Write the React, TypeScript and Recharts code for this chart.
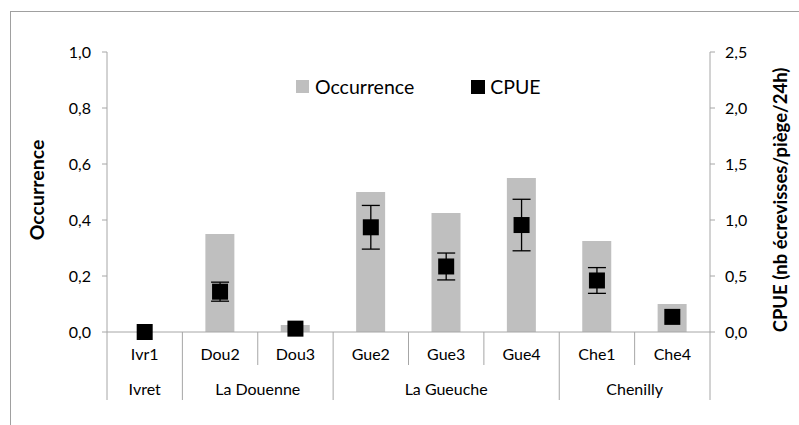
import React from "react";
import {
  ComposedChart, Bar, Line, XAxis, YAxis, ErrorBar, Legend,
} from "recharts";

// sites (first level) and rivers (second level)
const sites = ["Ivr1", "Dou2", "Dou3", "Gue2", "Gue3", "Gue4", "Che1", "Che4"];
const rivers = ["Ivret", "La Douenne", "La Douenne", "La Gueuche", "La Gueuche", "La Gueuche", "Chenilly", "Chenilly"];
const occurrence = [0, 0.35, 0.025, 0.5, 0.425, 0.55, 0.325, 0.1];
const cpue = [0, 0.36, 0.03, 0.935, 0.585, 0.955, 0.46, 0.135];
const cpueErr = [0, 0.085, 0, 0.195, 0.12, 0.23, 0.115, 0];
const leftTicks = [0, 0.2, 0.4, 0.6, 0.8, 1.0];
const rightTicks = [0, 0.5, 1.0, 1.5, 2.0, 2.5];

const data = sites.map((s, i) => ({
  site: s, river: rivers[i], occurrence: occurrence[i], cpue: cpue[i], cpueErr: cpueErr[i],
}));

const AXIS = "#A6A6A6";
const FONT = "Lato, 'Open Sans', sans-serif";
const comma = (v: number) => v.toFixed(1).replace(".", ",");

function SiteTick({ x, y, payload }: any) {
  const i = payload.index;
  const half = payload.offset || 37.7;
  const left = x - half;
  const groupStart = i === 0 || rivers[i] !== rivers[i - 1];
  const last = i === sites.length - 1;
  let groupLabel = null;
  if (groupStart) {
    let n = 1;
    while (i + n < rivers.length && rivers[i + n] === rivers[i]) n++;
    groupLabel = (
      <text x={left + n * half} y={y + 63} textAnchor="middle" fill="#000" fontSize={16} fontFamily={FONT}>
        {rivers[i]}
      </text>
    );
  }
  return (
    <g>
      <line x1={left} x2={left} y1={y} y2={y + (groupStart ? 68 : 33)} stroke={AXIS} />
      {last && <line x1={x + half} x2={x + half} y1={y} y2={y + 68} stroke={AXIS} />}
      <text x={x} y={y + 28} textAnchor="middle" fill="#000" fontSize={16} fontFamily={FONT}>
        {payload.value}
      </text>
      {groupLabel}
    </g>
  );
}

function SquareDot({ cx, cy }: any) {
  if (cx == null || cy == null) return null;
  return <rect x={cx - 8} y={cy - 8} width={16} height={16} fill="#000" />;
}

function LegendBox() {
  return (
    <div style={{ display: "flex", alignItems: "center", fontFamily: FONT, fontSize: 19.5, color: "#000" }}>
      <span style={{ width: 13, height: 13, background: "#BFBFBF", marginRight: 6 }} />
      <span style={{ marginRight: 57 }}>Occurrence</span>
      <span style={{ width: 14, height: 14, background: "#000", marginRight: 5 }} />
      <span>CPUE</span>
    </div>
  );
}

export default function App() {
  return (
    <div style={{ position: "absolute", left: 0, top: 0, width: 799, height: 425, overflow: "hidden", background: "#fff" }}>
      <div style={{ position: "absolute", left: 10, top: 11, width: 800, height: 420, borderTop: "1px solid #A0A0A0", borderLeft: "1px solid #A0A0A0", boxSizing: "border-box" }} />
      <ComposedChart
        width={799}
        height={425}
        data={data}
        margin={{ top: 52, right: 0, bottom: 0, left: 0 }}
        barCategoryGap={0}
        style={{ position: "absolute", left: 0, top: 0 }}
      >
        <XAxis
          dataKey="site"
          xAxisId="x"
          height={93}
          axisLine={{ stroke: AXIS }}
          tickLine={false}
          tickSize={0}
          tickMargin={0}
          interval={0}
          tick={<SiteTick />}
        />
        <YAxis
          yAxisId="left"
          width={107}
          domain={[0, 1]}
          ticks={leftTicks}
          tickFormatter={comma}
          axisLine={{ stroke: AXIS }}
          tickLine={{ stroke: AXIS }}
          tickSize={5}
          tickMargin={11}
          tick={{ fill: "#000", fontSize: 16, fontFamily: FONT }}
          label={{
            content: ({ viewBox }: any) => (
              <text
                x={viewBox.x + 36}
                y={viewBox.y + viewBox.height / 2 - 2}
                transform={`rotate(-90, ${viewBox.x + 36}, ${viewBox.y + viewBox.height / 2 - 2})`}
                textAnchor="middle"
                dominantBaseline="central"
                fontSize={19.5}
                fontWeight="bold"
                fontFamily={FONT}
                fill="#000"
              >
                Occurrence
              </text>
            ),
          }}
        />
        <YAxis
          yAxisId="right"
          orientation="right"
          width={89}
          domain={[0, 2.5]}
          ticks={rightTicks}
          tickFormatter={comma}
          axisLine={{ stroke: AXIS }}
          tickLine={{ stroke: AXIS }}
          tickSize={5}
          tickMargin={10}
          tick={{ fill: "#000", fontSize: 16, fontFamily: FONT }}
          label={{
            content: ({ viewBox }: any) => (
              <text
                x={viewBox.x + 70}
                y={viewBox.y + viewBox.height / 2 + 8}
                transform={`rotate(-90, ${viewBox.x + 70}, ${viewBox.y + viewBox.height / 2 + 8})`}
                textAnchor="middle"
                dominantBaseline="central"
                fontSize={18.5}
                fontWeight="bold"
                fontFamily={FONT}
                fill="#000"
              >
                CPUE (nb écrevisses/piège/24h)
              </text>
            ),
          }}
        />
        <Legend
          layout="horizontal"
          verticalAlign="middle"
          align="center"
          content={<LegendBox />}
          wrapperStyle={{ top: 75, left: 296, width: "auto" }}
        />
        <Bar
          dataKey="occurrence"
          name="Occurrence"
          xAxisId="x"
          yAxisId="left"
          fill="#BFBFBF"
          barSize={29}
          isAnimationActive={false}
        />
        <Line
          dataKey="cpue"
          name="CPUE"
          xAxisId="x"
          yAxisId="right"
          stroke="none"
          dot={<SquareDot />}
          activeDot={false}
          isAnimationActive={false}
        >
          <ErrorBar dataKey="cpueErr" direction="y" width={9} stroke="#000" strokeWidth={1.3} isAnimationActive={false} />
        </Line>
      </ComposedChart>
    </div>
  );
}
